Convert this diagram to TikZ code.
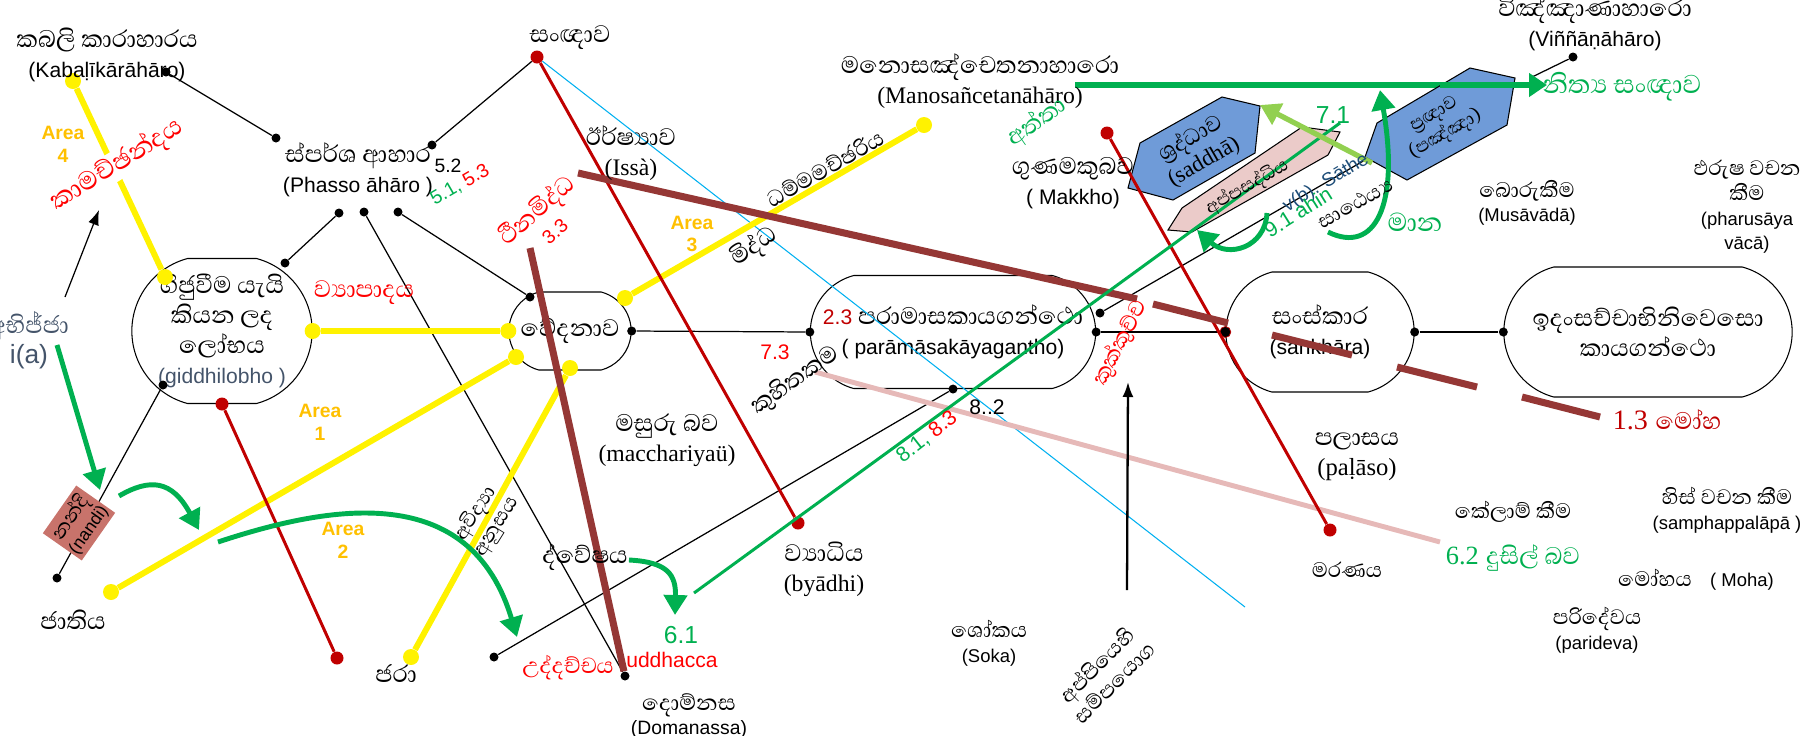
\documentclass[tikz,border=0pt]{standalone}
\usepackage{fontspec}
\setmainfont{Liberation Sans}
\newfontfamily\serf{Liberation Serif}
\newfontfamily\sifont[Script=Sinhala, Scale=1.45]{Abhaya Libre}
\newcommand{\sitxt}[1]{{\sifont #1}}
\usetikzlibrary{shapes.misc, arrows.meta, positioning}

\definecolor{lineRed}{HTML}{C00000}
\definecolor{txtRed}{HTML}{FF0000}
\definecolor{areaOrange}{HTML}{FFC000}
\definecolor{grn}{HTML}{00B050}
\definecolor{lgrn}{HTML}{92D050}
\definecolor{brwn}{HTML}{953735}
\definecolor{pnk}{HTML}{E6B9B8}
\definecolor{cyn}{HTML}{00B0F0}
\definecolor{slate}{HTML}{44546A}
\definecolor{navy}{HTML}{1F4E79}
\definecolor{hexblue}{HTML}{6F9BD8}
\definecolor{hexpink}{HTML}{EBCBC9}
\definecolor{nandiRed}{HTML}{C8736B}

\tikzstyle{blob} = [draw, rounded rectangle, rounded rectangle arc length=150, line width=0.6pt, align=center, font=\fontsize{12}{17}\selectfont]
\tikzstyle{txt} = [align=center, inner sep=1pt, font=\fontsize{12}{17}\selectfont]
\tikzstyle{smalltxt} = [align=center, inner sep=1pt, font=\fontsize{10.5}{14}\selectfont]
\tikzstyle{area} = [align=center, inner sep=1pt, text=areaOrange, font=\bfseries\fontsize{11}{13}\selectfont]
\tikzstyle{bdot} = [circle, fill=black, inner sep=0pt, minimum size=1.8mm]
\tikzstyle{rdot} = [circle, fill=lineRed, inner sep=0pt, minimum size=2.6mm]
\tikzstyle{ydot} = [circle, fill=yellow, inner sep=0pt, minimum size=3.2mm]
\tikzstyle{wire} = [draw, line width=0.7pt]
\tikzstyle{yline} = [draw, yellow, line width=3.4pt]
\tikzstyle{rline} = [draw, lineRed, line width=1.7pt]
\tikzstyle{bline} = [draw, brwn, line width=4pt]
\tikzstyle{gline} = [draw, grn, line width=1.7pt]
\tikzstyle{pline} = [draw, pnk, line width=2.8pt]
\tikzstyle{cline} = [draw, cyn, line width=0.6pt]
\tikzstyle{arrow} = [draw, -{Latex[length=3mm, width=2.2mm]}]
\tikzstyle{garrow} = [draw, grn, line width=2.8pt, -{Triangle[length=4mm, width=4.6mm]}]

\begin{document}
\begin{tikzpicture}[x=0.2mm, y=-0.2mm]
  \useasboundingbox (0,0) rectangle (1806,735);

  % main shapes
  \node[blob, minimum width=38.4mm, minimum height=29mm] (lobha) at (222,331) {\sitxt{ගිජුවීම යැයි}\\\sitxt{කියන ලද}\\\sitxt{ලෝභය}\\{\color{slate}(giddhilobho )}};
  \node[blob, minimum width=26.8mm, minimum height=15.6mm] (vedana) at (570,331) {\sitxt{වේදනාව}};
  \node[blob, minimum width=59.4mm, minimum height=22.6mm] (paramasa) at (953,332) {{\color{lineRed}2.3} \sitxt{පරාමාසකායගන්ථො}\\( parāmāsakāyagantho)};
  \node[blob, minimum width=40mm, minimum height=24mm] (sankhara) at (1320,332) {\sitxt{සංස්කාර}\\(sankhāra)};
  \node[blob, minimum width=60mm, minimum height=26mm] (idam) at (1648,332) {\sitxt{ඉදංසච්චාභිනිවෙසො}\\\sitxt{කායගන්ථො}};

  % hexagons
  \draw[fill=hexpink, line width=0.6pt] (1168,230) -- (1182,208) -- (1302,127) -- (1340,132) -- (1328,155) -- (1192,232) -- cycle;
  \draw[fill=hexblue, line width=0.6pt] (1128,188) -- (1140,143) -- (1222,97) -- (1260,106) -- (1255,153) -- (1173,200) -- cycle;
  \draw[draw=grn, line width=3pt] (1075,85) -- (1440,85);
  \draw[fill=hexblue, line width=0.6pt] (1365,157) -- (1377,123) -- (1470,68) -- (1515,78) -- (1507,125) -- (1407,180) -- cycle;

  % dots
  \node[bdot] (kabD) at (166,72) {};
  \node[bdot] (phTL) at (276,138) {};
  \node[bdot] (phTR) at (432,145) {};
  \node[rdot] (sanD) at (537,57) {};
  \node[bdot] (phB1) at (339,213) {};
  \node[bdot] (phB2) at (364,212) {};
  \node[bdot] (phB3) at (398,212) {};
  \node[bdot] (lobT) at (285,263) {};
  \node[bdot] (lobBL) at (163,385) {};
  \node[rdot] (lobB) at (222,404) {};
  \node[bdot] (jatiD) at (57,578) {};
  \node[rdot] (lobEnd) at (337,658) {};
  \node[bdot] (vedTL) at (530,297) {};
  \node[bdot] (vedE) at (vedana.east) {};
  \node[bdot] (parW) at (paramasa.west) {};
  \node[bdot] (parE) at (paramasa.east) {};
  \node[bdot] (parNE) at (1100,313) {};
  \node[bdot] (parS) at (paramasa.south) {};
  \node[bdot, draw=lineRed, minimum size=2.2mm] (sanW) at (sankhara.west) {};
  \node[bdot] (sanE) at (sankhara.east) {};
  \node[bdot] (idamW) at (idam.west) {};
  \node[bdot] (domD) at (625,676) {};
  \node[bdot] (dvD) at (494,657) {};
  \node[rdot] (byaD) at (798,523) {};
  \node[rdot] (makD) at (1107,133) {};
  \node[rdot] (maraD) at (1330,530) {};
  \node[bdot] (vinD) at (1573,57) {};
  \node[ydot] (kamY) at (73,81) {};
  \node[ydot] (lobNW) at (165,277) {};
  \node[ydot] (lobE) at (lobha.east) {};
  \node[ydot] (vedW) at (vedana.west) {};
  \node[ydot] (a1Y) at (111,592) {};
  \node[ydot] (vedSW) at (516,357) {};
  \node[ydot] (jaraY) at (411,657) {};
  \node[ydot] (vedS) at (570,368) {};
  \node[ydot] (vedNE) at (625,298) {};
  \node[ydot] (dhY) at (924,125) {};
  \coordinate (pasC) at (1365,160);
  \coordinate (vinC) at (1530,78);
  \coordinate (cyEnd) at (1245,607);
  \coordinate (thTop) at (530,248);
  \coordinate (g8a) at (694,593);
  \coordinate (g8b) at (1340,123);
  \coordinate (pkA) at (815,372);
  \coordinate (pkB) at (1440,542);

  % thin black connectors
  \draw[wire] (kabD) -- (phTL);
  \draw[wire] (phTR) -- (sanD);
  \draw[wire] (phB1) -- (lobT);
  \draw[wire] (phB2) -- (domD);
  \draw[wire] (phB3) -- (vedTL);
  \draw[wire] (lobBL) -- (jatiD);
  \draw[wire] (vedE) -- (parW);
  \draw[wire] (parE) -- (sanW);
  \draw[wire] (sanE) -- (idamW);
  \draw[wire] (dvD) -- (parS);
  \draw[wire] (parNE) -- (pasC);
  \draw[wire] (vinD) -- (vinC);

  % coloured lines
  \draw[cline] (sanD) -- (cyEnd);
  \draw[pline] (pkA) -- (pkB);
  \draw[yline] (kamY) -- (lobNW);
  \draw[yline] (lobE) -- (vedW);
  \draw[yline] (a1Y) -- (vedSW);
  \draw[yline] (jaraY) -- (vedS);
  \draw[yline] (vedNE) -- (dhY);
  \draw[rline] (lobB) -- (lobEnd);
  \draw[rline] (sanD) -- (byaD);
  \draw[rline] (makD) -- (maraD);
  \draw[bline] (thTop) -- (domD);
  \draw[bline] (578,173) -- (1137,299);
  \draw[bline] (1153,304) -- (1228,323);
  \draw[bline] (1272,335) -- (1352,355);
  \draw[bline] (1397,367) -- (1477,387);
  \draw[bline] (1522,397) -- (1600,417);
  \draw[gline] (g8a) -- (g8b);

  % arrows
  \draw[arrow, line width=0.7pt] (65,297) -- (99,210);
  \draw[arrow, line width=1.3pt] (1127,590) -- (1128,382);
  \draw[garrow] (57,345) -- (100,490);
  \draw[garrow] (119,496) .. controls (150,478) and (172,480) .. (199,530);
  \draw[garrow] (218,542) .. controls (330,505) and (470,480) .. (517,637);
  \draw[garrow] (629,560) .. controls (668,562) and (676,575) .. (675,615);
  \draw[garrow] (1267,213) .. controls (1265,248) and (1228,258) .. (1197,230);
  \draw[garrow] (1328,232) .. controls (1375,255) and (1400,205) .. (1380,90);
  \draw[lgrn, line width=3pt, -{Triangle[length=4mm, width=4.6mm]}] (1372,163) -- (1260,105);
  \draw[grn, line width=3pt, -{Triangle[length=3.6mm, width=4.6mm]}] (1440,85) -- (1537,85) -- (1547,85);

  % labels
  \node[txt] (kabali) at (107,55) {\sitxt{කබලි කාරාහාරය}\\(Kabaḷīkārāhāro)};
  \node[area] (area4) at (63,144) {Area\\4};
  \node[txt, text=txtRed, rotate=32, fill=white, inner sep=0pt, font=\fontsize{13}{16}\selectfont] (kama) at (117,165) {\sitxt{කාමච්ඡන්දය}};
  \node[txt, text=slate] (abhijja) at (29,340) {\sitxt{අභිජ්ජා}\\{\fontsize{15}{17}\selectfont i(a)}};
  \node[txt, rotate=55, fill=nandiRed, minimum width=11.5mm, minimum height=9.5mm, font=\fontsize{10}{12}\selectfont] (nandi) at (79,523) {\sitxt{නන්දි}\\(nandi)};
  \node[txt] (jati) at (73,620) {\sitxt{ජාතිය}};
  \node[txt] (phasso) at (358,170) {\sitxt{ස්පර්ශ ආහාර}\\(Phasso āhāro )};
  \node[txt, font=\fontsize{11}{13}\selectfont] (n52) at (448,166) {5.2};
  \node[txt, rotate=30, font=\fontsize{11}{13}\selectfont] (n5153) at (460,185) {{\color{grn}5.1,} {\color{txtRed}5.3}};
  \node[txt, text=txtRed] (vyapada) at (364,293) {\sitxt{ව්‍යාපාදය}};
  \node[area] (area1) at (320,422) {Area\\1};
  \node[area] (area2) at (343,540) {Area\\2};
  \node[area] (area3) at (692,234) {Area\\3};
  \node[txt] (sangna) at (570,38) {\sitxt{සංඥාව}};
  \node[txt] (irsha) at (631,153) {\sitxt{ඊර්ෂ්‍යාව}\\{\serf\fontsize{13.5}{17}\selectfont (Issà)}};
  \node[txt, text=txtRed, rotate=41, font=\fontsize{12}{15}\selectfont] (thina) at (544,219) {\sitxt{ථීනමිද්ධ}\\{\fontsize{11}{13}\selectfont 3.3}};
  \node[txt, rotate=30, font=\fontsize{11}{13}\selectfont] (dhamma) at (825,168) {\sitxt{ධම්මමච්ඡරිය}};
  \node[txt, rotate=35] (middha) at (754,247) {\sitxt{මිද්ධ}};
  \node[txt] (mano) at (980,81) {\sitxt{මනොසඤ්චෙතනාහාරො}\\{\serf\fontsize{13.5}{17}\selectfont (Manosañcetanāhāro)}};
  \node[txt, text=grn, rotate=35] (atta) at (1037,122) {\sitxt{අත්තා}};
  \node[txt] (makkho) at (1073,183) {\sitxt{ගුණමකුබව}\\( Makkho)};
  \node[txt] (vinna) at (1595,24) {\sitxt{විඤ්ඤාණාහාරො}\\(Viññāṇāhāro)};
  \node[txt, text=grn, font=\fontsize{13}{16}\selectfont] (nitya) at (1622,87) {\sitxt{නිත්‍ය සංඥාව}};
  \node[txt, rotate=30, font=\fontsize{11}{15}\selectfont] (saddha) at (1197,150) {\sitxt{ශ්‍රද්ධාව}\\{\serf\fontsize{13}{15}\selectfont (saddhā)}};
  \node[txt, rotate=30, font=\fontsize{9}{11}\selectfont] (appasad) at (1247,187) {\sitxt{අප්පසද්ධිය}};
  \node[txt, rotate=30, font=\fontsize{9}{13}\selectfont] (panna) at (1440,125) {\sitxt{ප්‍රඥාව}\\\sitxt{(පඤ්ඤා)}};
  \node[txt, text=grn, font=\fontsize{14}{16}\selectfont] (n71) at (1333,115) {7.1};
  \node[txt, text=navy, rotate=31, font=\fontsize{11}{13}\selectfont] (sathe) at (1326,183) {v(b). Sāthe};
  \node[txt, text=grn, rotate=32, font=\fontsize{12}{13}\selectfont] (ahin) at (1298,212) {9.1 ahin};
  \node[txt, rotate=29, font=\fontsize{10}{13}\selectfont] (satheyya) at (1355,203) {\sitxt{සාඨෙය්‍ය}};
  \node[txt, text=grn, font=\fontsize{13}{16}\selectfont] (mana) at (1415,222) {\sitxt{මාන}};
  \node[txt, text=txtRed, rotate=62, font=\fontsize{11}{13}\selectfont] (kukk) at (1120,343) {\sitxt{කුක්කුච්ච}};
  \node[txt, text=lineRed, font=\fontsize{16}{18}\selectfont] (moha13) at (1667,420) {{\serf 1.3} {\fontsize{12}{14}\selectfont\sitxt{මෝහ}}};
  \node[smalltxt] (boru) at (1527,203) {\sitxt{බොරුකීම}\\(Musāvādā)};
  \node[smalltxt] (pharusa) at (1747,207) {\sitxt{ඵරුෂ වචන}\\\sitxt{කීම}\\(pharusāya\\vācā)};
  \node[txt] (palasa) at (1357,457) {\sitxt{පලාසය}\\{\serf\fontsize{14}{17}\selectfont (paḷāso)}};
  \node[smalltxt] (marana) at (1347,570) {\sitxt{මරණය}};
  \node[smalltxt] (kelam) at (1513,512) {\sitxt{කේලාම් කීම}};
  \node[smalltxt] (hiss) at (1727,510) {\sitxt{හිස් වචන කීම}\\(samphappalāpā )};
  \node[smalltxt] (moha) at (1696,580) {\sitxt{මෝහය}\quad( Moha)};
  \node[smalltxt] (parid) at (1597,630) {\sitxt{පරිදේවය}\\(parideva)};
  \node[txt, text=grn, font=\fontsize{15}{17}\selectfont] (dusil) at (1513,558) {{\serf 6.2} {\fontsize{12}{14}\selectfont\sitxt{දුසිල් බව}}};
  \node[smalltxt] (soka) at (989,643) {\sitxt{ශෝකය}\\(Soka)};
  \node[smalltxt, rotate=45] (appiya) at (1105,673) {\sitxt{අප්පියෙහි}\\\sitxt{සම්පයොග}};
  \node[txt, rotate=35] (kuhita) at (795,380) {\sitxt{කුහිතකම}};
  \node[txt, text=txtRed, font=\fontsize{12}{14}\selectfont] (n73) at (775,352) {7.3};
  \node[txt] (n82) at (987,407) {8..2};
  \node[txt, rotate=38, font=\fontsize{12}{14}\selectfont] (n8183) at (927,437) {{\color{grn}8.1,} {\color{txtRed}8.3}};
  \node[txt] (byadhi) at (824,569) {\sitxt{ව්‍යාධිය}\\{\serf\fontsize{13.5}{17}\selectfont (byādhi)}};
  \node[txt] (maccha) at (667,440) {\sitxt{මසුරු බව}\\{\serf\fontsize{13.5}{17}\selectfont (macchariyaü)}};
  \node[txt] (dvesha) at (585,557) {\sitxt{ද්වේෂය}};
  \node[txt, text=grn, font=\fontsize{14}{16}\selectfont] (n61) at (681,635) {6.1};
  \node[txt, text=txtRed, font=\fontsize{11}{13}\selectfont] (uddh) at (568,668) {\sitxt{උද්දච්චය}};
  \node[txt, text=txtRed] (uddhL) at (672,660) {uddhacca};
  \node[smalltxt, font=\fontsize{11}{14}\selectfont] (doman) at (689,716) {\sitxt{දොම්නස}\\(Domanassa)};
  \node[txt] (jara) at (396,673) {\sitxt{ජරා}};
  \node[txt, rotate=58, font=\fontsize{10}{14}\selectfont] (avidya) at (486,520) {\sitxt{අවිද්‍යා}\\\sitxt{අනුසය}};
\end{tikzpicture}
\end{document}
